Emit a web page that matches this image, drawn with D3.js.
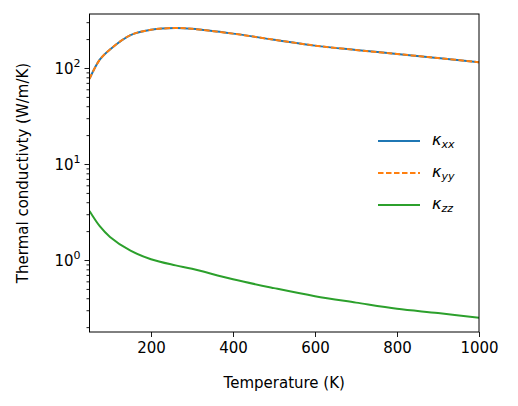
<!DOCTYPE html>
<html><head><meta charset="utf-8">
<script src="https://cdn.jsdelivr.net/npm/d3@7"></script>
<style>body{margin:0;background:#fff}text{font-family:"DejaVu Sans",sans-serif}</style>
</head><body><svg id="chart" width="518" height="406"></svg>
<script>
const temps = [50, 75, 100, 150, 200, 260, 300, 400, 500, 600, 700, 800, 900, 1000];
const kxx = [77, 122, 156, 220, 250, 261, 256, 228, 197, 171, 154, 140, 127, 115];
const kyy = kxx.slice();
const kzz = [3.24, 2.25, 1.74, 1.25, 1.02, 0.88, 0.81, 0.63, 0.51, 0.42, 0.36, 0.31, 0.28, 0.25];
const xTicks = [200, 400, 600, 800, 1000];

const margin = {top: 14, right: 39, bottom: 74, left: 89.5};
const svg = d3.select("#chart");
const width = 518 - margin.left - margin.right;
const height = 406 - margin.top - margin.bottom;
const g = svg.append("g").attr("transform", `translate(${margin.left},${margin.top})`);

const x = d3.scaleLinear().domain([50, 1000]).range([0, width]);
const y = d3.scaleLog().domain([0.178, 365]).range([height, 0]);

const line = vals => d3.line().curve(d3.curveCatmullRom.alpha(0.5))
  .x((d, i) => x(temps[i])).y(d => y(d))(vals);

const series = [
  {vals: kxx, color: "#1f77b4", dash: null, sub: "xx"},
  {vals: kyy, color: "#ff7f0e", dash: "5.5,2.5", sub: "yy"},
  {vals: kzz, color: "#2ca02c", dash: null, sub: "zz"}
];
g.append("clipPath").attr("id", "clip").append("rect").attr("width", width).attr("height", height);
series.forEach(s => {
  g.append("path").attr("d", line(s.vals)).attr("fill", "none")
    .attr("stroke", s.color).attr("stroke-width", 2).attr("clip-path", "url(#clip)")
    .attr("stroke-dasharray", s.dash);
});

// axes
const xAxis = g.append("g").attr("transform", `translate(0,${height})`)
  .call(d3.axisBottom(x).tickValues(xTicks).tickFormat(d3.format("d")).tickSize(5).tickPadding(5));
const major = [1, 10, 100];
const minor = [];
[0.1, 1, 10, 100].forEach(b => { for (let k = 2; k <= 9; k++) { const v = b * k; if (v > 0.178 && v < 365) minor.push(v); } });
g.append("g").call(d3.axisLeft(y).tickValues(major).tickFormat("").tickSize(5));
g.append("g").call(d3.axisLeft(y).tickValues(minor).tickFormat("").tickSize(3));
g.selectAll(".domain").remove();
g.selectAll(".tick line").attr("stroke", "#000").attr("stroke-width", 0.9);
xAxis.selectAll("text").attr("font-size", 15).attr("fill", "#000");
["0", "1", "2"].forEach((e, i) => {
  const t = g.append("text").attr("x", -9).attr("y", y(major[i]) + 6).attr("text-anchor", "end").attr("font-size", 15);
  t.append("tspan").text("10");
  t.append("tspan").text(e).attr("font-size", 11).attr("dy", -7);
});
g.append("rect").attr("width", width).attr("height", height).attr("fill", "none").attr("stroke", "#000").attr("stroke-width", 1);

svg.append("text").attr("x", margin.left + width / 2).attr("y", 388).attr("text-anchor", "middle")
  .attr("font-size", 15).text("Temperature (K)");
svg.append("text").attr("transform", `translate(28,${margin.top + height / 2}) rotate(-90)`)
  .attr("text-anchor", "middle").attr("font-size", 15).text("Thermal conductivty (W/m/K)");

// legend
series.forEach((s, i) => {
  const ly = 141 + i * 32;
  svg.append("line").attr("x1", 378).attr("x2", 420).attr("y1", ly).attr("y2", ly)
    .attr("stroke", s.color).attr("stroke-width", 2).attr("stroke-dasharray", s.dash);
  const t = svg.append("text").attr("x", 432).attr("y", ly + 4).attr("font-size", 16).attr("font-style", "italic");
  t.append("tspan").text("κ");
  t.append("tspan").text(s.sub).attr("font-size", 11).attr("dy", 3);
});
</script></body></html>
